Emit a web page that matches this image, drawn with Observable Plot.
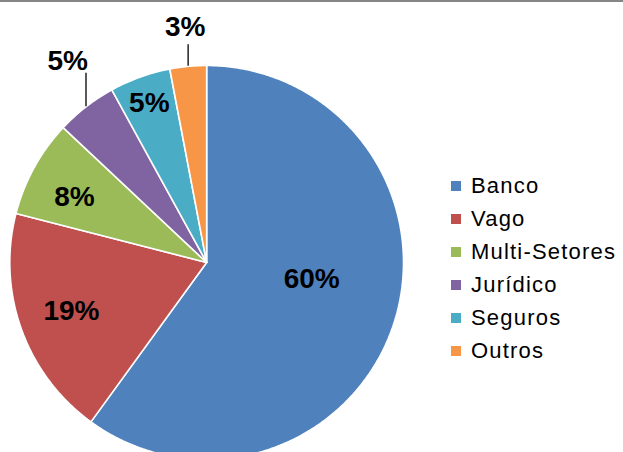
<!DOCTYPE html>
<html>
<head>
<meta charset="utf-8">
<script src="https://cdn.jsdelivr.net/npm/d3@7"></script>
<script src="https://cdn.jsdelivr.net/npm/@observablehq/plot@0.6"></script>
<style>
  html, body { margin: 0; padding: 0; background: #fff; overflow: hidden; }
  #wrap { position: relative; width: 623px; height: 452px; overflow: hidden; }
  #topline { position: absolute; left: 0; top: 0; width: 623px; height: 2px; background: #868686; }
  #chart { position: absolute; left: 0; top: 0; }
  #legend { position: absolute; left: 451px; top: 169px; }
  #legend .lg-swatches { font-family: "Liberation Sans", Arial, sans-serif !important; font-size: 22px !important; color: #000; margin: 0 !important; min-height: 0 !important; }
  #legend .lg-swatch { height: 33px; padding: 0 !important; letter-spacing: 1.2px; }
  #legend .lg-swatch svg { margin-right: 10px !important; }
</style>
</head>
<body>
<div id="wrap">
  <div id="chart"></div>
  <div id="topline"></div>
  <div id="legend"></div>
</div>
<script>
// Data
const categories = ["Banco", "Vago", "Multi-Setores", "Jurídico", "Seguros", "Outros"];
const values = [60, 19, 8, 5, 5, 3];
const colors = ["#4F81BD", "#C0504D", "#9BBB59", "#8064A2", "#4BACC6", "#F79646"];
// label placement: inside (radius factor, angle fraction within slice) or outside (leader length, text gap)
const labelPlacement = ["in", "in", "in", "out", "in", "out"];
const labelRadius = [0.54, 0.73, 0.75, 1, 0.86, 1];
const labelAngleFrac = [0.457, 0.5, 0.42, 0.5, 0.5, 0.5];
const leaderLength = [0, 0, 0, 0.17, 0, 0.11];

const rows = categories.map((c, i) => ({cat: c, value: values[i], place: labelPlacement[i], lr: labelRadius[i], af: labelAngleFrac[i], ll: leaderLength[i]}));
const arcs = d3.pie().sort(null).value(d => d.value).startAngle(0).endAngle(2 * Math.PI)(rows);

// slice polygons (unit circle, y up)
const poly = [];
arcs.forEach(a => {
  poly.push({cat: a.data.cat, x: 0, y: 0});
  const n = Math.max(4, Math.ceil((a.endAngle - a.startAngle) / 0.01));
  for (let k = 0; k <= n; k++) {
    const t = a.startAngle + (a.endAngle - a.startAngle) * k / n;
    poly.push({cat: a.data.cat, x: Math.sin(t), y: Math.cos(t)});
  }
  poly.push({cat: a.data.cat, x: 0, y: 0});
});

const labels = arcs.map(a => {
  const out = a.data.place === "out";
  const m = out ? (a.startAngle + a.endAngle) / 2 : a.startAngle + (a.endAngle - a.startAngle) * a.data.af;
  const r = out ? 1 : a.data.lr;
  return {
    cat: a.data.cat,
    text: a.data.value + "%",
    out,
    x0: Math.sin(m), y0: Math.cos(m),
    x: Math.sin(m) * r,
    y: out ? Math.cos(m) + a.data.ll : Math.cos(m) * r,
    anchor: out && Math.abs(Math.sin(m)) > 0.3 ? "end" : "middle"
  };
});
const inner = labels.filter(d => !d.out);
const outer = labels.filter(d => d.out);

const colorScale = {type: "ordinal", domain: categories, range: colors};
const font = "Liberation Sans, Arial, sans-serif";

const chart = Plot.plot({
  width: 623,
  height: 452,
  margin: 0,
  style: {background: "transparent", overflow: "hidden"},
  x: {type: "linear", domain: [-1, 1], range: [9.3, 403], axis: null},
  y: {type: "linear", domain: [-1, 1], range: [459, 65], axis: null},
  color: colorScale,
  marks: [
    Plot.line(poly, {x: "x", y: "y", z: "cat", fill: "cat", stroke: "#fff", strokeWidth: 1.6, strokeLinejoin: "miter", curve: "linear"}),
    Plot.text(inner, {x: "x", y: "y", text: "text", fontSize: 28, fontWeight: "bold", fill: "#000", fontFamily: font}),
    Plot.ruleX(outer, {x: "x0", y1: "y0", y2: "y", stroke: "#000", strokeWidth: 1.3}),
    Plot.text(outer.filter(d => d.anchor === "end"), {x: "x0", y: "y", text: "text", fontSize: 28, fontWeight: "bold", fill: "#000", fontFamily: font, textAnchor: "end", lineAnchor: "bottom", dx: 2, dy: -3}),
    Plot.text(outer.filter(d => d.anchor === "middle"), {x: "x0", y: "y", text: "text", fontSize: 28, fontWeight: "bold", fill: "#000", fontFamily: font, textAnchor: "middle", lineAnchor: "bottom", dx: -3, dy: -9})
  ]
});
document.getElementById("chart").appendChild(chart);

const legend = Plot.legend({color: colorScale, legend: "swatches", columns: 1, swatchSize: 10, className: "lg"});
document.getElementById("legend").appendChild(legend);
</script>
</body>
</html>
